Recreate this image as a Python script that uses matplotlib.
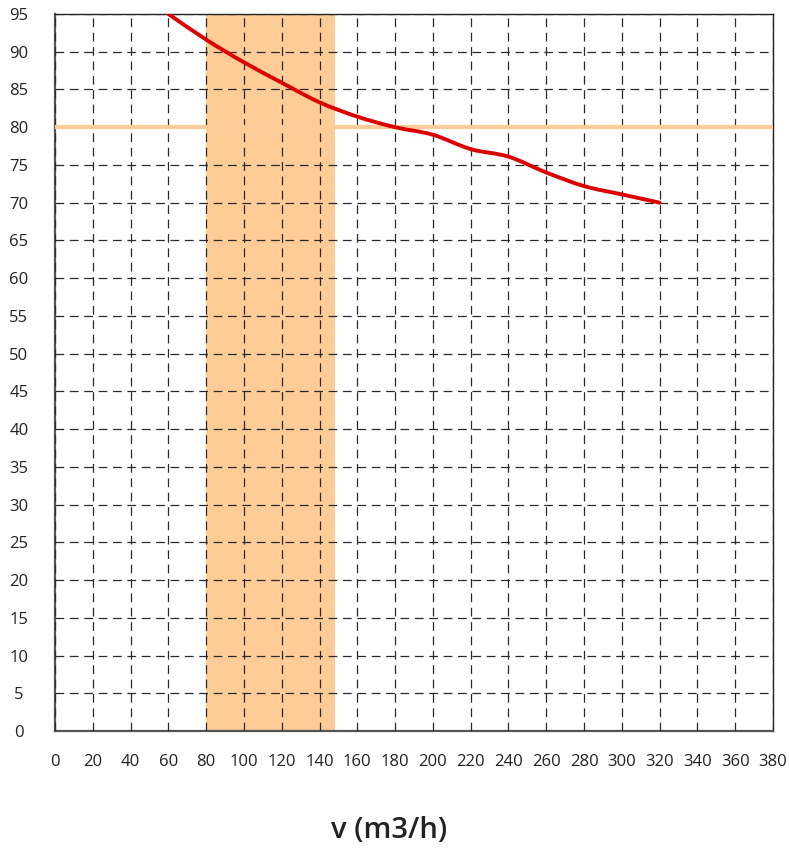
import matplotlib
matplotlib.use("Agg")
import matplotlib.pyplot as plt
from matplotlib.path import Path
from matplotlib.patches import PathPatch

x_vals = [60, 80, 100, 120, 140, 160, 180, 200, 220, 240, 260, 280, 300, 320]
y_vals = [95, 91.6, 88.6, 85.9, 83.3, 81.4, 80.0, 79.0, 77.1, 76.1, 74.0, 72.2, 71.1, 70.0]
band_range = [80, 148]
ref_level = 80
x_ticks = list(range(0, 381, 20))
y_ticks = list(range(0, 96, 5))
x_label = "v (m3/h)"

plt.rcParams['font.family'] = ['Open Sans', 'DejaVu Sans']

fig = plt.figure(figsize=(7.89, 8.49), dpi=100)
ax = fig.add_axes([55/789, 1-731/849, 718/789, 717/849])
ax.set_xlim(0, 380)
ax.set_ylim(0, 95)

ax.axvspan(band_range[0], band_range[1], color='#FECC97', zorder=1, lw=0)
ax.set_xticks(x_ticks)
ax.set_yticks(y_ticks)
ax.grid(True, color='#2a2a2a', linestyle=(0, (7, 4.5)), linewidth=0.9, zorder=2)
ax.set_axisbelow(False)
ax.axhline(ref_level, color='#FFCC99', lw=3, zorder=3)

# smooth curve through the data points (Catmull-Rom as cubic Bezier segments)
pts = list(zip(x_vals, y_vals))
n = len(pts)
verts = [pts[0]]
codes = [Path.MOVETO]
for i in range(n - 1):
    p0 = pts[i - 1] if i > 0 else pts[i]
    p1 = pts[i]
    p2 = pts[i + 1]
    p3 = pts[i + 2] if i + 2 < n else pts[i + 1]
    c1 = (p1[0] + (p2[0] - p0[0]) / 6, p1[1] + (p2[1] - p0[1]) / 6)
    c2 = (p2[0] - (p3[0] - p1[0]) / 6, p2[1] - (p3[1] - p1[1]) / 6)
    verts += [c1, c2, p2]
    codes += [Path.CURVE4] * 3
curve = PathPatch(Path(verts, codes), facecolor='none', edgecolor='#DD0000', lw=2.8,
                  zorder=4, capstyle='round', joinstyle='round')
ax.add_patch(curve)

for s in ['top', 'right']:
    ax.spines[s].set_color('#222222')
    ax.spines[s].set_linewidth(1.0)
for s in ['left', 'bottom']:
    ax.spines[s].set_color('#555555')
    ax.spines[s].set_linewidth(1.6)

ax.tick_params(axis='both', length=0, labelsize=12, colors='#222222')
ax.tick_params(axis='y', pad=26)
ax.tick_params(axis='x', pad=16.5)
for lab in ax.get_yticklabels():
    lab.set_ha('center')

fig.text(389 / 789, 1 - 830/849, x_label, ha='center', va='center',
         fontsize=21, fontweight='semibold', color='#222222')

fig.savefig('out.png', dpi=100)
